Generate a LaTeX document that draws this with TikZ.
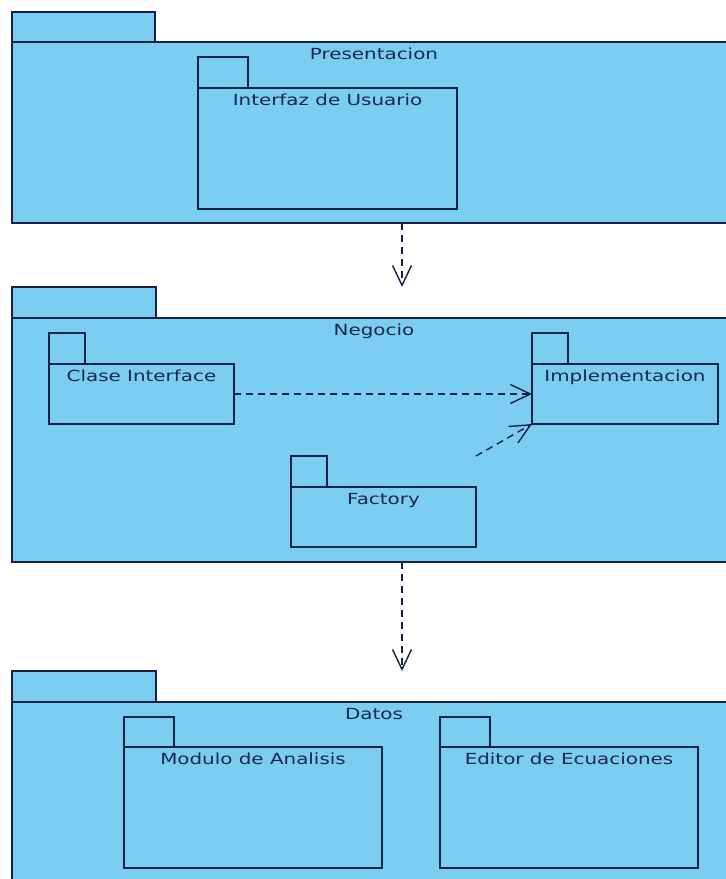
\documentclass[tikz,border=0pt]{standalone}
\usepackage{fontspec}
\setmainfont{DejaVu Sans}[FakeStretch=1.3]
\usetikzlibrary{arrows.meta}
\definecolor{pkgfill}{RGB}{122,205,241}
\definecolor{pkgline}{RGB}{22,32,72}
\definecolor{pkgtext}{RGB}{28,38,78}
\tikzset{
  pkgbody/.style={draw=pkgline, fill=pkgfill, line width=1.6pt, anchor=north west,
    inner sep=0pt, outer sep=0pt},
  pkgtab/.style={draw=pkgline, fill=pkgfill, line width=1.6pt, anchor=south west,
    inner sep=0pt, outer sep=0pt},
  pkglabel/.style={text=pkgtext, anchor=base, inner sep=0pt,
    font=\fontsize{15.3}{18}\selectfont, yshift=-17pt},
  dep/.style={draw=pkgline, line width=1.4pt, dash pattern=on 7pt off 5pt,
    -{Straight Barb[length=20pt,width=19pt,line width=1.4pt]}},
}
\begin{document}
\begin{tikzpicture}[x=1pt,y=-1pt]
\useasboundingbox (0,0) rectangle (726,879);
\clip (0,0) rectangle (726,879);
\fill[white] (0,0) rectangle (726,879);

% Layer: Presentacion
\node[pkgbody, minimum width=724pt, minimum height=181pt] (pres) at (12,42) {};
\node[pkgtab, minimum width=143pt, minimum height=30pt] (prestab) at (pres.north west) {};
\node[pkglabel] (preslbl) at (pres.north) {Presentacion};

\node[pkgbody, minimum width=259pt, minimum height=121pt] (iu) at (198,88) {};
\node[pkgtab, minimum width=50pt, minimum height=31pt] (iutab) at (iu.north west) {};
\node[pkglabel] (iulbl) at (iu.north) {Interfaz de Usuario};

% Layer: Negocio
\node[pkgbody, minimum width=724pt, minimum height=244pt] (neg) at (12,318) {};
\node[pkgtab, minimum width=144pt, minimum height=31pt] (negtab) at (neg.north west) {};
\node[pkglabel] (neglbl) at (neg.north) {Negocio};

\node[pkgbody, minimum width=185pt, minimum height=60pt] (clase) at (49,364) {};
\node[pkgtab, minimum width=36pt, minimum height=31pt] (clasetab) at (clase.north west) {};
\node[pkglabel] (claselbl) at (clase.north) {Clase Interface};

\node[pkgbody, minimum width=186pt, minimum height=60pt] (impl) at (532,364) {};
\node[pkgtab, minimum width=36pt, minimum height=31pt] (impltab) at (impl.north west) {};
\node[pkglabel] (impllbl) at (impl.north) {Implementacion};

\node[pkgbody, minimum width=185pt, minimum height=60pt] (fac) at (291,487) {};
\node[pkgtab, minimum width=36pt, minimum height=31pt] (factab) at (fac.north west) {};
\node[pkglabel] (faclbl) at (fac.north) {Factory};

% Layer: Datos
\node[pkgbody, minimum width=724pt, minimum height=200pt] (dat) at (12,702) {};
\node[pkgtab, minimum width=144pt, minimum height=31pt] (dattab) at (dat.north west) {};
\node[pkglabel] (datlbl) at (dat.north) {Datos};

\node[pkgbody, minimum width=258pt, minimum height=121pt] (mod) at (124,747) {};
\node[pkgtab, minimum width=50pt, minimum height=30pt] (modtab) at (mod.north west) {};
\node[pkglabel] (modlbl) at (mod.north) {Modulo de Analisis};

\node[pkgbody, minimum width=258pt, minimum height=121pt] (edit) at (440,747) {};
\node[pkgtab, minimum width=50pt, minimum height=30pt] (edittab) at (edit.north west) {};
\node[pkglabel] (editlbl) at (edit.north) {Editor de Ecuaciones};

% Dependencies
\coordinate (axis) at (402,0);
\draw[dep] (pres.south -| axis) -- (negtab.north -| axis);
\draw[dep] (neg.south -| axis) -- (dattab.north -| axis);
\draw[dep] (clase.east) -- (impl.west);
\draw[dep] (fac.east |- factab.north) -- (impl.south west);
\end{tikzpicture}
\end{document}
